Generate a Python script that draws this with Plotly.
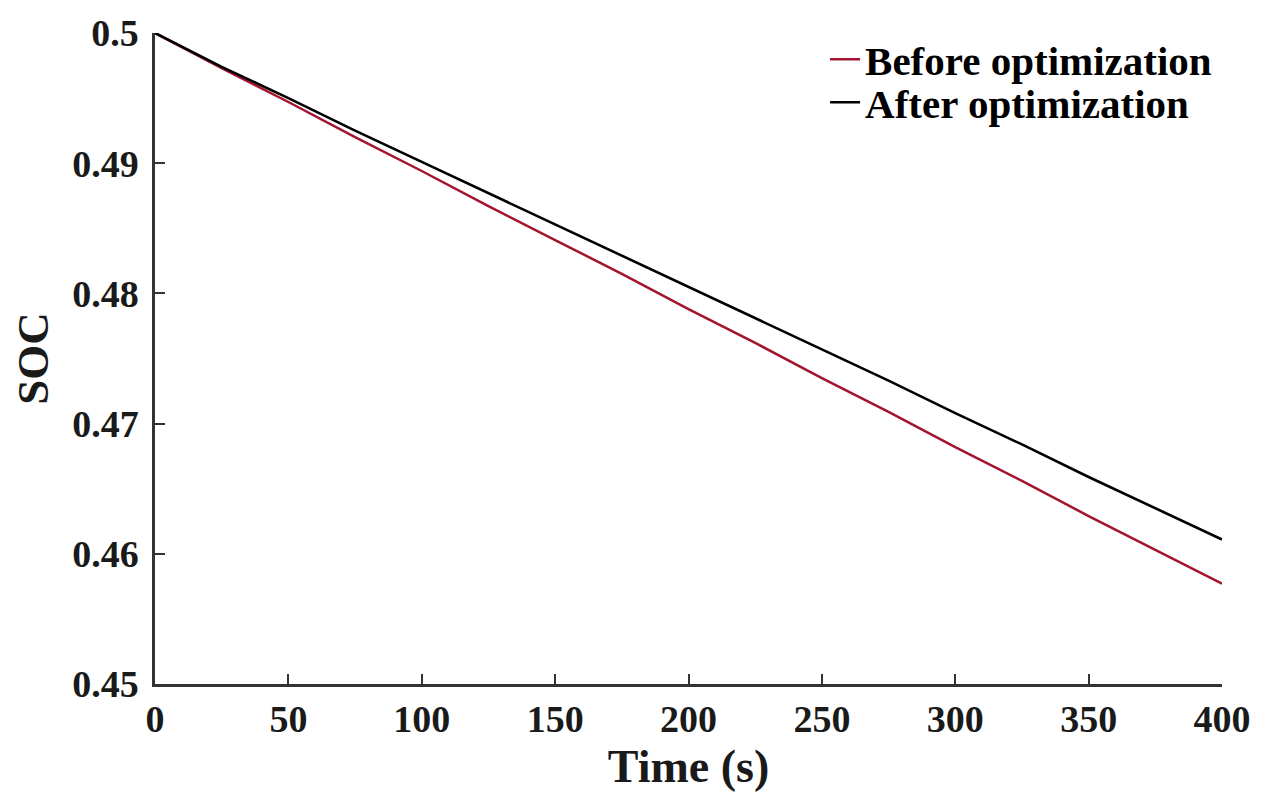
import plotly.graph_objects as go

time_s = [0, 25, 50, 75, 100, 125, 150, 175, 200, 225, 250, 275, 300, 325, 350, 375, 400]
soc_before = [0.5000, 0.4973, 0.4947, 0.4920, 0.4894, 0.4867, 0.4841, 0.4815, 0.4788,
              0.4762, 0.4735, 0.4709, 0.4682, 0.4656, 0.4629, 0.4603, 0.4577]
soc_after = [0.5000, 0.4974, 0.4950, 0.4925, 0.4901, 0.4877, 0.4853, 0.4829, 0.4805,
             0.4781, 0.4757, 0.4733, 0.4708, 0.4684, 0.4659, 0.4635, 0.4611]
x_ticks = [0, 50, 100, 150, 200, 250, 300, 350, 400]
y_ticks = [0.45, 0.46, 0.47, 0.48, 0.49, 0.5]
y_tick_text = ["0.45", "0.46", "0.47", "0.48", "0.49", "0.5"]

font_family = "Liberation Serif"

fig = go.Figure()
fig.add_trace(go.Scatter(x=time_s, y=soc_before, mode="lines", name="<b>Before optimization</b>",
                         line=dict(color="#A2142F", width=2.5), legend="legend"))
fig.add_trace(go.Scatter(x=time_s, y=soc_after, mode="lines", name="<b>After optimization</b>",
                         line=dict(color="#000000", width=2.6), legend="legend2"))

legend_common = dict(xanchor="left", yanchor="middle",
                     font=dict(family=font_family, size=41, color="#000"),
                     bgcolor="rgba(0,0,0,0)", itemwidth=30, borderwidth=0)

fig.update_layout(
    width=1268, height=809,
    margin=dict(l=147, r=54, t=25, b=133),
    paper_bgcolor="white", plot_bgcolor="white",
    font=dict(family=font_family, color="#1a1a1a"),
    showlegend=True,
    legend=dict(x=0.628, y=0.959, **legend_common),
    legend2=dict(x=0.628, y=0.893, **legend_common),
    xaxis=dict(range=[0, 400], tickvals=x_ticks, ticktext=["<b>%d</b>" % v for v in x_ticks],
               ticks="inside", ticklen=10, tickwidth=2, automargin=False,
               tickcolor="#333", showline=True, linecolor="#333", linewidth=2.5,
               showgrid=False, zeroline=False, mirror=False, ticklabelstandoff=0,
               tickfont=dict(family=font_family, size=38, color="#1a1a1a"),
               title=dict(text="<b>Time (s)</b>", font=dict(family=font_family, size=46, color="#1a1a1a"), standoff=11)),
    yaxis=dict(range=[0.45, 0.5], tickvals=y_ticks, ticktext=["<b>%s</b>" % t for t in y_tick_text],
               ticks="inside", ticklen=10, tickwidth=2, automargin=False,
               tickcolor="#333", showline=True, linecolor="#333", linewidth=2.5,
               showgrid=False, zeroline=False, mirror=False, ticklabelstandoff=6,
               tickfont=dict(family=font_family, size=38, color="#1a1a1a"),
               title=dict(text="<b>SOC</b>", font=dict(family=font_family, size=45, color="#1a1a1a"), standoff=14)),
)

fig.write_html("out.html")
